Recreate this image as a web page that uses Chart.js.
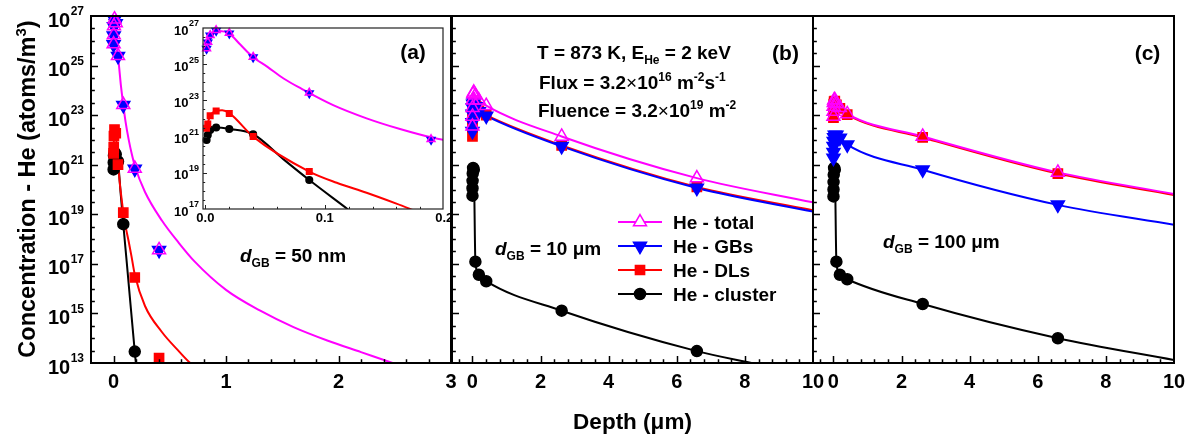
<!DOCTYPE html>
<html>
<head>
<meta charset="utf-8">
<script src="https://cdn.jsdelivr.net/npm/chart.js@4.4.1/dist/chart.umd.min.js"></script>
<style>
  html, body { margin: 0; padding: 0; background: #fff; }
  #wrap { position: relative; width: 1192px; height: 441px; overflow: hidden; background: #fff; }
  canvas { position: absolute; }
</style>
</head>
<body>
<div id="wrap">
  <canvas id="ca" width="460" height="441" style="left:0px;top:0px"></canvas>
  <canvas id="cb" width="385" height="441" style="left:440px;top:0px"></canvas>
  <canvas id="cc" width="392" height="441" style="left:800px;top:0px"></canvas>
  <canvas id="ci" width="310" height="215" style="left:150px;top:15px"></canvas>
</div>
<script>
// depth (µm) of the plotted symbols, same mesh in every panel
const markDepth = [0.001, 0.002, 0.004, 0.009, 0.02, 0.04, 0.087, 0.189, 0.405, 2.62, 6.59];

// values are log10 of concentration (atoms/m3)
// panel (a) : d_GB = 50 nm
const aTotal   = [25.87, 26.23, 26.60, 26.87, 26.72, 25.40, 23.42, 20.85, 17.56];
const aGBs     = [25.85, 26.20, 26.58, 26.85, 26.70, 25.38, 23.40, 20.83, 17.55];
const aDLs     = [21.46, 21.70, 22.15, 22.42, 22.27, 21.00, 19.07, 16.45, 13.20];
const aCluster = [20.81, 21.09, 21.37, 21.50, 21.42, 21.13, 18.60, 13.46];

// smooth model curves of panel (a) (also used by the inset)
const aTotalLineX   = [0, 0.002, 0.004, 0.007, 0.012, 0.02, 0.029, 0.039, 0.052, 0.0655, 0.08, 0.107, 0.135, 0.163, 0.19, 0.28, 0.43, 0.58, 0.72, 1.0, 1.3, 1.6, 1.9, 2.2, 2.5, 2.6];
const aTotalLine    = [26.0, 26.3, 26.6, 26.78, 26.83, 26.69, 26.1, 25.44, 24.85, 24.21, 23.66, 22.74, 22.01, 21.42, 20.95, 19.9, 18.75, 17.85, 17.1, 15.95, 15.12, 14.45, 13.91, 13.44, 12.97, 12.82];
const aDLsLineX     = [0, 0.002, 0.004, 0.009, 0.014, 0.02, 0.04, 0.087, 0.11, 0.135, 0.16, 0.19, 0.28, 0.43, 0.576, 0.69, 0.75];
const aDLsLine      = [21.36, 21.75, 22.15, 22.42, 22.45, 22.3, 21.0, 19.07, 18.45, 17.9, 17.3, 16.55, 15.3, 14.25, 13.5, 12.97, 12.8];
const aClusterLineX = [0, 0.002, 0.004, 0.009, 0.02, 0.04, 0.0655, 0.087, 0.119, 0.189, 0.2];
const aClusterLine  = [20.75, 21.09, 21.37, 21.5, 21.42, 21.13, 19.74, 18.6, 17.0, 13.46, 12.95];

// panel (b) : d_GB = 10 µm
const bTotal   = [22.55, 22.95, 23.30, 23.60, 23.85, 23.92, 23.80, 23.60, 23.38, 22.14, 20.46];
const bGBs     = [22.35, 22.70, 23.05, 23.30, 23.45, 23.50, 23.35, 23.15, 22.97, 21.74, 20.06];
const bDLs     = [22.14, 22.50, 22.85, 23.15, 23.35, 23.45, 23.35, 23.17, 23.00, 21.78, 20.10];
const bCluster = [19.75, 20.05, 20.35, 20.65, 20.87, 20.80, 17.09, 16.56, 16.30, 15.11, 13.48];
// where the curves leave the frame
const bTailX = [10];
const bTotalTail = [19.48];
const bGBsTail = [19.11];
const bDLsTail = [19.16];
const bClusterTailX = [8.3];
const bClusterTail = [12.97];

// panel (c) : d_GB = 100 µm
const cTotal   = [22.95, 23.15, 23.35, 23.50, 23.60, 23.62, 23.45, 23.30, 23.05, 22.14, 20.69];
const cGBs     = [21.27, 21.50, 21.75, 21.95, 22.10, 22.20, 22.20, 22.08, 21.81, 20.80, 19.38];
const cDLs     = [22.90, 23.10, 23.30, 23.45, 23.55, 23.57, 23.42, 23.27, 23.02, 22.10, 20.64];
const cCluster = [19.72, 20.00, 20.30, 20.60, 20.87, 20.80, 17.09, 16.56, 16.38, 15.38, 14.00];
const cTailX = [10];
const cTotalTail = [19.82];
const cGBsTail = [18.58];
const cDLsTail = [19.78];
const cClusterTail = [13.12];

// axis labels
const aXLabels = [0, 1, 2, 3];
const bcXLabels = [0, 2, 4, 6, 8, 10];
const insetXLabels = [0, 0.1, 0.2];
const yExponents = [13, 15, 17, 19, 21, 23, 25, 27];
const insetYExponents = [17, 19, 21, 23, 25, 27];

const FAM = '"Liberation Sans", Arial, Helvetica, sans-serif';

const STYLE = {
  total:   { color: '#ff00ff', point: 'triangle', rot: 0,   fill: 'rgba(255,255,255,0)', label: 'He - total' },
  gbs:     { color: '#0000ff', point: 'triangle', rot: 180, fill: '#0000ff', label: 'He - GBs' },
  dls:     { color: '#ff0000', point: 'rect',     rot: 0,   fill: '#ff0000', label: 'He - DLs' },
  cluster: { color: '#000000', point: 'circle',   rot: 0,   fill: '#000000', label: 'He - cluster' }
};
const SIZE = { triangle: 7.5, rect: 6.5, circle: 5.5 };

function toPts(xs, logs) {
  return logs.map((v, i) => ({ x: xs[i], y: Math.pow(10, v) }));
}

function marks(key, xs, logs, k, clip) {
  const s = STYLE[key];
  return {
    type: 'scatter', label: s.label, data: toPts(xs, logs),
    pointStyle: s.point, pointRotation: s.rot, pointRadius: SIZE[s.point] * k,
    pointBackgroundColor: s.fill, pointBorderColor: s.color, pointBorderWidth: 1.5,
    backgroundColor: s.fill, borderColor: s.color, showLine: false, clip: clip
  };
}

function curve(key, xs, logs) {
  return {
    type: 'line', data: toPts(xs, logs), borderColor: STYLE[key].color, borderWidth: 2,
    pointRadius: 0, cubicInterpolationMode: 'monotone', fill: false, clip: 0
  };
}

// text with sub/superscripts, y is the middle of the capitals
function rich(ctx, x, y, parts, size, align) {
  const small = Math.round(size * 0.63);
  const font = k => {
    if (k === 'sup' || k === 'sub') return 'bold ' + small + 'px ' + FAM;
    if (k === 'i') return 'italic bold ' + size + 'px ' + FAM;
    if (k === 'thin') return size + 'px ' + FAM;
    return 'bold ' + size + 'px ' + FAM;
  };
  let w = 0;
  parts.forEach(p => { ctx.font = font(p[1]); w += ctx.measureText(p[0]).width; });
  let cx = align === 'center' ? x - w / 2 : (align === 'right' ? x - w : x);
  const base = y + size * 0.36;
  ctx.textAlign = 'left';
  ctx.textBaseline = 'alphabetic';
  parts.forEach(p => {
    ctx.font = font(p[1]);
    let dy = 0;
    if (p[1] === 'sup') dy = -size * 0.42;
    if (p[1] === 'sub') dy = size * 0.28;
    ctx.fillText(p[0], cx, base + dy);
    cx += ctx.measureText(p[0]).width;
  });
}

function tickList(min, max, step, majorStep) {
  const out = [];
  const first = Math.ceil(min / step - 1e-9) * step;
  for (let v = first; v <= max + 1e-9; v += step) {
    const r = Math.round(v / majorStep) * majorStep;
    out.push([v, Math.abs(v - r) < 1e-6]);
  }
  return out;
}

function panelPlugin(cfg) {
  return {
    id: 'panelFrame',
    beforeDatasetsDraw(chart) {
      if (!cfg.white) return;
      const a = chart.chartArea, ctx = chart.ctx;
      ctx.save();
      ctx.fillStyle = '#fff';
      ctx.fillRect(a.left, a.top, a.right - a.left, a.bottom - a.top);
      ctx.restore();
    },
    afterDraw(chart) {
      const ctx = chart.ctx, a = chart.chartArea, sx = chart.scales.x, sy = chart.scales.y;
      ctx.save();
      ctx.strokeStyle = cfg.frameColor;
      ctx.lineWidth = cfg.frameWidth;
      ctx.strokeRect(a.left, a.top, a.right - a.left, a.bottom - a.top);

      // inward ticks
      ctx.lineWidth = cfg.tickWidth;
      ctx.beginPath();
      tickList(cfg.xMin, cfg.xMax, cfg.xStep, cfg.xMajor).forEach(([v, major]) => {
        const px = Math.round(sx.getPixelForValue(v)) + 0.5;
        if (px < a.left + 1 || px > a.right - 1) return;
        ctx.moveTo(px, a.bottom);
        ctx.lineTo(px, a.bottom - (major ? cfg.tickLen : cfg.tickLen * 0.55));
      });
      tickList(cfg.yMinE, cfg.yMaxE, 0.5, 2).forEach(([e]) => {
        const py = Math.round(sy.getPixelForValue(Math.pow(10, e))) + 0.5;
        if (py < a.top + 1 || py > a.bottom - 1) return;
        const major = Math.abs(e - Math.round(e)) < 1e-6 && Math.round(e) % 2 !== 0;
        ctx.moveTo(a.left, py);
        ctx.lineTo(a.left + (major ? cfg.tickLen : cfg.tickLen * 0.55), py);
      });
      ctx.stroke();

      // x tick labels
      ctx.fillStyle = '#000';
      ctx.font = 'bold ' + cfg.xFont + 'px ' + FAM;
      ctx.textAlign = 'center';
      ctx.textBaseline = 'middle';
      cfg.xLabels.forEach(v => {
        ctx.fillText(cfg.xFmt(v), sx.getPixelForValue(v), cfg.xLabelY);
      });

      // y tick labels 10^n
      (cfg.yLabels || []).forEach(e => {
        const py = sy.getPixelForValue(Math.pow(10, e));
        const exp = String(e);
        ctx.font = 'bold ' + cfg.yExpFont + 'px ' + FAM;
        const w = ctx.measureText(exp).width;
        ctx.textAlign = 'left';
        ctx.fillText(exp, cfg.yLabelRight - w, py + cfg.yExpDy);
        ctx.font = 'bold ' + cfg.yFont + 'px ' + FAM;
        ctx.textAlign = 'right';
        ctx.fillText('10', cfg.yLabelRight - w - 0.5, py + cfg.yBaseDy);
      });

      // annotations in page coordinates
      if (cfg.extra) {
        ctx.translate(-cfg.ox, -cfg.oy);
        cfg.extra(ctx);
      }
      ctx.restore();
    }
  };
}

function makePanel(id, cfg) {
  return new Chart(document.getElementById(id), {
    type: 'scatter',
    data: { datasets: cfg.datasets },
    options: {
      responsive: false,
      animation: false,
      events: [],
      layout: { padding: cfg.pad },
      plugins: { legend: { display: false }, tooltip: { enabled: false } },
      scales: {
        x: { type: 'linear', min: cfg.xMin, max: cfg.xMax, display: false },
        y: { type: 'logarithmic', min: Math.pow(10, cfg.yMinE), max: Math.pow(10, cfg.yMaxE), display: false }
      }
    },
    plugins: [panelPlugin(cfg)]
  });
}

function drawMarker(ctx, key, x, y) {
  const s = STYLE[key];
  ctx.save();
  ctx.fillStyle = key === 'total' ? '#fff' : s.fill;
  ctx.strokeStyle = s.color;
  ctx.lineWidth = 1.5;
  if (Chart.helpers && Chart.helpers.drawPoint) {
    Chart.helpers.drawPoint(ctx, { pointStyle: s.point, rotation: s.rot, radius: SIZE[s.point], borderWidth: 1.5 }, x, y);
  } else {
    ctx.beginPath();
    ctx.arc(x, y, SIZE[s.point], 0, Math.PI * 2);
    ctx.fill();
    ctx.stroke();
  }
  ctx.restore();
}

const common = {
  frameColor: '#000', frameWidth: 2, tickWidth: 1.5, tickLen: 7,
  yMinE: 13, yMaxE: 27, xFont: 20, xLabelY: 382, oy: 0
};

// ---- panel (a)
const aX = markDepth.slice(0, 9);
makePanel('ca', Object.assign({}, common, {
  ox: 0,
  pad: { left: 91, top: 16, right: 8, bottom: 78 },
  xMin: -0.2, xMax: 3, xStep: 0.2, xMajor: 1,
  xLabels: aXLabels, xFmt: v => String(v),
  yLabels: yExponents, yLabelRight: 84, yFont: 20, yExpFont: 12, yBaseDy: 5, yExpDy: -4,
  datasets: [
    marks('total', aX, aTotal, 1, false),
    marks('gbs', aX, aGBs, 1, false),
    marks('dls', aX, aDLs, 1, false),
    marks('cluster', aX, aCluster, 1, false),
    curve('total', aTotalLineX, aTotalLine),
    curve('dls', aDLsLineX, aDLsLine),
    curve('cluster', aClusterLineX, aClusterLine)
  ],
  extra(ctx) {
    ctx.fillStyle = '#000';
    ctx.save();
    ctx.translate(27, 189);
    ctx.rotate(-Math.PI / 2);
    rich(ctx, 0, 0, [['Concentration - He (atoms/m', ''], ['3', 'sup'], [')', '']], 23.5, 'center');
    ctx.restore();
    rich(ctx, 240, 255, [['d', 'i'], ['GB', 'sub'], [' = 50 nm', '']], 19, 'left');
  }
}));

// ---- panel (b)
makePanel('cb', Object.assign({}, common, {
  ox: 440,
  pad: { left: 12, top: 16, right: 12, bottom: 78 },
  xMin: -0.6, xMax: 10, xStep: 0.4, xMajor: 2,
  xLabels: bcXLabels, xFmt: v => String(v),
  datasets: [
    marks('total', markDepth, bTotal, 1, false),
    marks('gbs', markDepth, bGBs, 1, false),
    marks('dls', markDepth, bDLs, 1, false),
    marks('cluster', markDepth, bCluster, 1, false),
    curve('total', markDepth.concat(bTailX), bTotal.concat(bTotalTail)),
    curve('gbs', markDepth.concat(bTailX), bGBs.concat(bGBsTail)),
    curve('dls', markDepth.concat(bTailX), bDLs.concat(bDLsTail)),
    curve('cluster', markDepth.concat(bClusterTailX), bCluster.concat(bClusterTail))
  ],
  extra(ctx) {
    ctx.fillStyle = '#000';
    rich(ctx, 632.5, 421, [['Depth (μm)', '']], 22.5, 'center');
    rich(ctx, 785.5, 52, [['(b)', '']], 21, 'center');
    rich(ctx, 537, 52, [['T = 873 K, E', ''], ['He', 'sub'], [' = 2 keV', '']], 19, 'left');
    rich(ctx, 539, 82, [['Flux = 3.2', ''], ['×', 'thin'], ['10', ''], ['16', 'sup'], [' m', ''], ['-2', 'sup'], ['s', ''], ['-1', 'sup']], 19, 'left');
    rich(ctx, 538, 110, [['Fluence = 3.2', ''], ['×', 'thin'], ['10', ''], ['19', 'sup'], [' m', ''], ['-2', 'sup']], 19, 'left');
    rich(ctx, 495, 248, [['d', 'i'], ['GB', 'sub'], [' = 10 μm', '']], 19, 'left');
    // legend
    ['total', 'gbs', 'dls', 'cluster'].forEach((key, i) => {
      const y = 222 + i * 24;
      ctx.strokeStyle = STYLE[key].color;
      ctx.lineWidth = 2;
      ctx.beginPath();
      ctx.moveTo(618, y);
      ctx.lineTo(662, y);
      ctx.stroke();
      drawMarker(ctx, key, 640, y);
      ctx.fillStyle = '#000';
      rich(ctx, 673, y, [[STYLE[key].label, '']], 19, 'left');
    });
  }
}));

// ---- panel (c)
makePanel('cc', Object.assign({}, common, {
  ox: 800,
  pad: { left: 13, top: 16, right: 18, bottom: 78 },
  xMin: -0.6, xMax: 10, xStep: 0.4, xMajor: 2,
  xLabels: bcXLabels, xFmt: v => String(v),
  datasets: [
    marks('total', markDepth, cTotal, 1, false),
    marks('gbs', markDepth, cGBs, 1, false),
    marks('dls', markDepth, cDLs, 1, false),
    marks('cluster', markDepth, cCluster, 1, false),
    curve('total', markDepth.concat(cTailX), cTotal.concat(cTotalTail)),
    curve('gbs', markDepth.concat(cTailX), cGBs.concat(cGBsTail)),
    curve('dls', markDepth.concat(cTailX), cDLs.concat(cDLsTail)),
    curve('cluster', markDepth.concat(cTailX), cCluster.concat(cClusterTail))
  ],
  extra(ctx) {
    ctx.fillStyle = '#000';
    rich(ctx, 1147.5, 52, [['(c)', '']], 21, 'center');
    rich(ctx, 883, 241, [['d', 'i'], ['GB', 'sub'], [' = 100 μm', '']], 19, 'left');
  }
}));

// ---- inset of panel (a)
const insetClip = { left: 6, top: 6, right: 0, bottom: 0 };
makePanel('ci', {
  frameColor: '#222', frameWidth: 1.2, tickWidth: 1, tickLen: 4, white: true,
  ox: 150, oy: 15,
  pad: { left: 53, top: 13, right: 17, bottom: 21 },
  xMin: -0.002, xMax: 0.199, xStep: 0.02, xMajor: 0.1,
  yMinE: 17, yMaxE: 27,
  xFont: 13, xLabelY: 203, xLabels: insetXLabels, xFmt: v => v.toFixed(1),
  yLabels: insetYExponents, yLabelRight: 49, yFont: 13, yExpFont: 9, yBaseDy: 3, yExpDy: -4,
  datasets: [
    marks('total', aX, aTotal, 0.6, insetClip),
    marks('gbs', aX, aGBs, 0.6, insetClip),
    marks('dls', aX, aDLs, 0.6, insetClip),
    marks('cluster', aX, aCluster, 0.6, insetClip),
    curve('total', aTotalLineX, aTotalLine),
    curve('dls', aDLsLineX, aDLsLine),
    curve('cluster', aClusterLineX, aClusterLine)
  ],
  extra(ctx) {
    ctx.fillStyle = '#000';
    rich(ctx, 413, 51, [['(a)', '']], 21, 'center');
  }
});
</script>
</body>
</html>
